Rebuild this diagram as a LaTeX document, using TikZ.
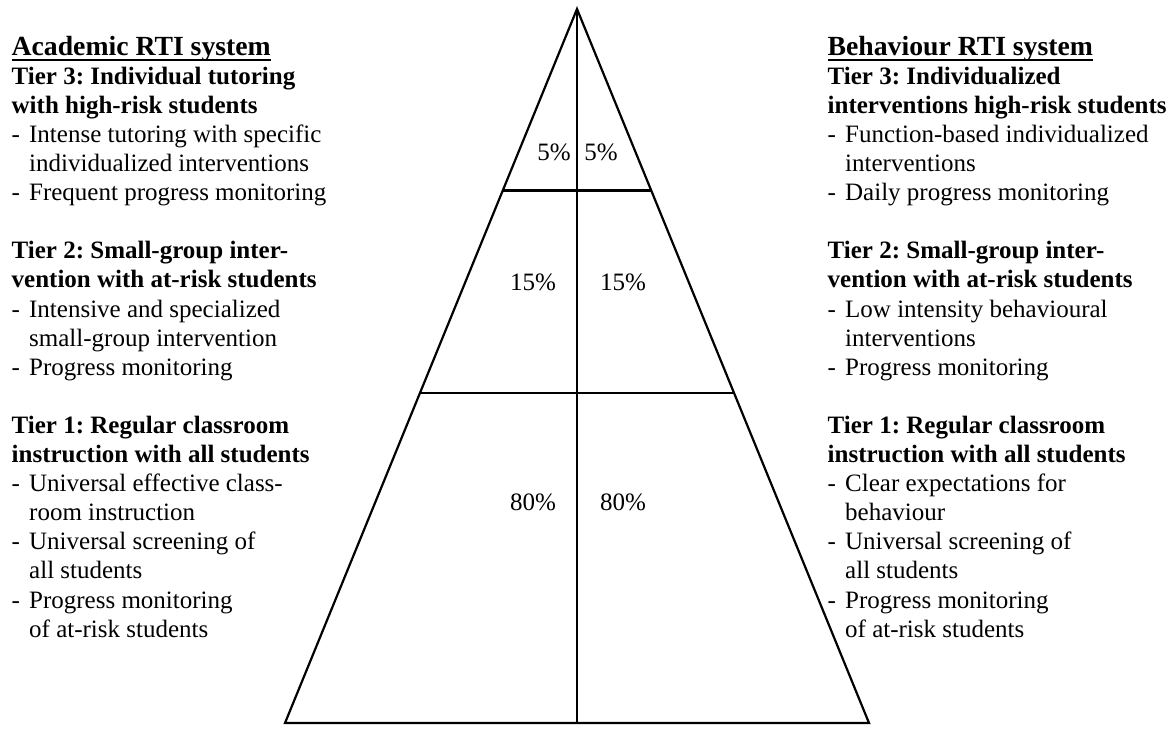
\documentclass[tikz,border=0pt]{standalone}
\usepackage{fontspec}
\setmainfont{Liberation Serif}
\usetikzlibrary{calc}
\frenchspacing

\newcommand{\bul}{\makebox[17.5pt][l]{-}}
\newcommand{\ind}{\hspace*{17.5pt}}
\newcommand{\heading}[1]{{\fontsize{27.7}{29.1}\selectfont\bfseries
  \setbox0\hbox{#1}\rlap{\rule[-6pt]{\wd0}{2.3pt}}\box0}}

\begin{document}
\begin{tikzpicture}[
    x=1pt, y=-1pt,
    column/.style={anchor=north west, inner sep=0pt, align=left,
                   font=\fontsize{25}{29.1}\selectfont},
    share/.style={anchor=base, inner sep=0pt,
                  font=\fontsize{25}{29.1}\selectfont},
    edge/.style={line width=2.2pt}
]
\useasboundingbox (0,0) rectangle (1175,733);

% pyramid
\coordinate (top) at (577,9);
\coordinate (bl) at (285,723);
\coordinate (br) at (869,723);
\coordinate (bm) at (577,723);
\draw[edge] (top) -- (bl) -- (br) -- cycle;
\draw[edge] (top) -- (bm);
\draw[edge] ($(top)!0.2541!(bl)$) -- ($(top)!0.2541!(br)$);
\draw[edge] ($(top)!0.5378!(bl)$) -- ($(top)!0.5378!(br)$);

% shares
\node[share] (p5l) at (554,160.5) {5\%};
\node[share] (p5r) at (601,160.5) {5\%};
\node[share] (p15l) at (533,290.5) {15\%};
\node[share] (p15r) at (623,290.5) {15\%};
\node[share] (p80l) at (533,510) {80\%};
\node[share] (p80r) at (623,510) {80\%};

% academic side
\node[column] (acad) at (11.5,34.6) {\strut\heading{Academic RTI system}\\
\textbf{Tier 3: Individual tutoring}\\
\textbf{with high-risk students}\\
\bul Intense tutoring with specific\\
\ind individualized interventions\\
\bul Frequent progress monitoring\\[29.1pt]
\textbf{Tier 2: Small-group inter-}\\
\textbf{vention with at-risk students}\\
\bul Intensive and specialized\\
\ind small-group intervention\\
\bul Progress monitoring\\[29.1pt]
\textbf{Tier 1: Regular classroom}\\
\textbf{instruction with all students}\\
\bul Universal effective class-\\
\ind room instruction\\
\bul Universal screening of\\
\ind all students\\
\bul Progress monitoring\\
\ind of at-risk students};

% behaviour side
\node[column] (behav) at (827.5,34.6) {\strut\heading{Behaviour RTI system}\\
\textbf{Tier 3: Individualized}\\
\textbf{interventions high-risk students}\\
\bul Function-based individualized\\
\ind interventions\\
\bul Daily progress monitoring\\[29.1pt]
\textbf{Tier 2: Small-group inter-}\\
\textbf{vention with at-risk students}\\
\bul Low intensity behavioural\\
\ind interventions\\
\bul Progress monitoring\\[29.1pt]
\textbf{Tier 1: Regular classroom}\\
\textbf{instruction with all students}\\
\bul Clear expectations for\\
\ind behaviour\\
\bul Universal screening of\\
\ind all students\\
\bul Progress monitoring\\
\ind of at-risk students};
\end{tikzpicture}
\end{document}
